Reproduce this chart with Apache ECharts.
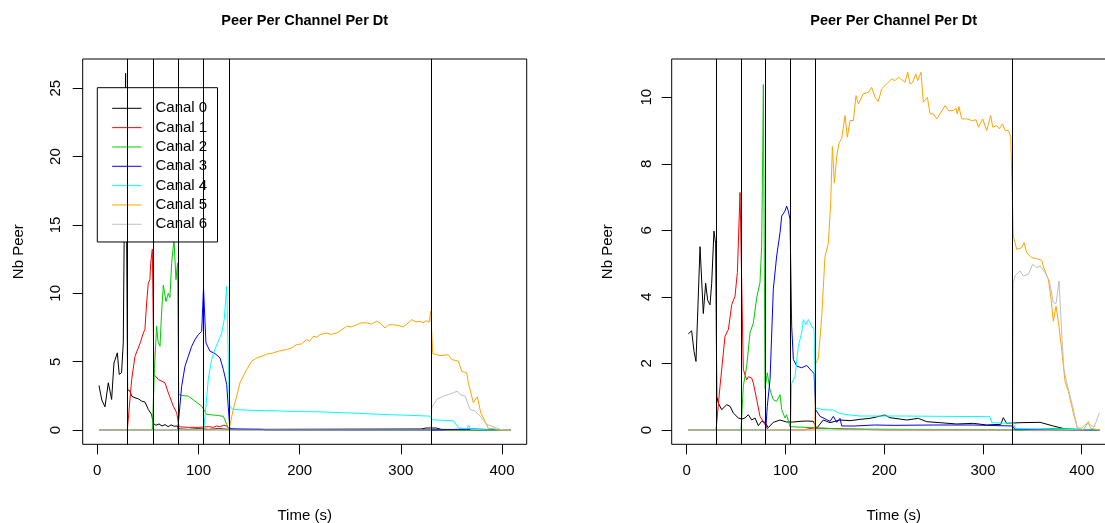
<!DOCTYPE html>
<html>
<head>
<meta charset="utf-8">
<script src="https://cdn.jsdelivr.net/npm/echarts@6/dist/echarts.min.js"></script>
<style>
html,body{margin:0;padding:0;background:#fff;}
#chart{width:1105px;height:523px;}
</style>
</head>
<body>
<div id="chart"></div>
<script>
// ---------- data ----------
const channelNames = ['Canal 0','Canal 1','Canal 2','Canal 3','Canal 4','Canal 5','Canal 6'];
const switchTimes = [30, 55, 80, 105, 130, 330];
const xTicks = [0, 100, 200, 300, 400];
const yTicksLeft = [0, 5, 10, 15, 20, 25];
const yTicksRight = [0, 2, 4, 6, 8, 10];

// left panel, [time, peers]
const L0 = [[1.7,3.26],[4.5,2.2],[7.6,1.7],[10.9,3.46],[14.2,2.24],[16.5,4.9],[19.8,5.65],[21.7,4.07],[24,4.2],[25.7,6.38],[28,26.1],[30,2.97],[32.3,2.85],[34,2.48],[37.3,2.36],[40.5,2.29],[43.9,2.12],[47.2,2.05],[50.4,1.51],[53.7,1.15],[55.4,0.49],[58,0.35],[61,0.45],[64,0.3],[67,0.4],[70,0.25],[73,0.38],[76,0.28],[79,0.3],[81,0.08],[90,0.05],[100,0.1],[110,0.05],[120,0.1],[130,0.05],[140,0.05],[320,0.08],[325,0.15],[335,0.15],[340,0.05],[408.6,0]];
const L1 = [[1.7,0],[29.7,0],[34,3.7],[37.3,5.4],[40.5,6.0],[43,6.5],[45.5,7.1],[47.1,7.36],[48.8,9.3],[50.4,10.76],[52,11.0],[52.8,12.2],[54.4,13.24],[56,4.07],[60.3,3.7],[63,3.6],[66.9,3.46],[70.2,2.73],[75.1,1.75],[78.5,1.27],[80.8,0.24],[90,0.2],[100,0.2],[110,0.25],[115,0.2],[118,0.3],[121,0.25],[125,0.35],[128,0.3],[131,0.02],[408.6,0]];
const L2 = [[1.7,0],[54.5,0],[55.4,2.0],[56.5,4.5],[58.7,7.6],[60,6.5],[62,6.13],[63.5,8.5],[65.3,10.6],[67.9,9.4],[70.2,10.0],[71.8,9.7],[73.5,12.2],[75.8,13.9],[77.8,11.0],[79.3,12.2],[80.5,2.6],[83.4,2.53],[90,2.48],[96.6,2.12],[103.2,1.75],[108.1,1.15],[112,1.12],[119.6,1.07],[124.6,1.0],[127.9,0.42],[130,0.02],[408.6,0]];
const L3 = [[1.7,0],[79.5,0],[83.4,3.2],[86.7,4.67],[90,5.4],[93.3,6.13],[96.6,6.62],[99.8,6.98],[103.2,7.23],[105,10.4],[107.4,6.38],[111.4,5.77],[116.3,5.6],[121.3,5.28],[124.6,4.43],[127.9,3.34],[129.5,3.2],[131,0.1],[140,0.08],[164,0.05],[166,0],[330,0],[331,0.08],[370,0.08],[371,0],[408.6,0]];
const L4 = [[1.7,0],[105,0],[106.5,1.0],[109.7,3.7],[113,5.16],[116.3,5.9],[119.6,6.5],[123,7.1],[125.5,8.1],[127.9,10.5],[130.5,1.8],[133.8,1.51],[150,1.45],[180,1.4],[200,1.35],[217,1.34],[250,1.25],[280,1.15],[300,1.1],[329,1.02],[331,0.75],[352,0.68],[357,0.15],[365,0.1],[367,0.34],[369,0.05],[397.5,0],[408.6,0]];
const L5 = [[1.7,0],[130,0],[131,0.05],[134.4,1.5],[137.8,2.48],[141,3.46],[144.3,3.94],[147.7,4.43],[152.6,5.04],[157.6,5.28],[162.5,5.4],[167.4,5.55],[174,5.65],[178.9,5.77],[187.2,5.89],[192,6.0],[197.1,6.26],[202,6.3],[207,6.62],[210,6.5],[213.5,6.86],[217,6.8],[220.1,6.98],[226.7,7.1],[231,7.0],[236.6,7.1],[241,7.3],[246.5,7.6],[251,7.55],[256.4,7.7],[261,7.85],[266.3,7.84],[271,7.75],[276.2,7.96],[280,7.8],[284.4,7.47],[288,7.7],[292.6,7.7],[297,7.65],[302.5,7.55],[306,7.75],[310.8,8.08],[315,7.9],[319,7.96],[322,7.85],[325.6,8.0],[328,7.9],[329.6,8.7],[331.5,5.6],[338.7,5.45],[346.9,5.5],[350.3,5.16],[356.9,5.04],[360.2,4.3],[365.1,4.19],[366.7,3.46],[371.7,2.0],[375.6,2.43],[379,1.27],[383.2,0.66],[386.5,0.12],[391.5,0.12],[396.5,0],[408.6,0]];
const L6 = [[1.7,0],[330,0],[330.5,1.63],[335.5,2.24],[342,2.48],[347,2.6],[352,2.73],[355.8,2.85],[358.5,2.6],[363.5,2.48],[368.4,1.51],[373.3,1.39],[378.3,1.02],[384.9,0.42],[391.4,0.25],[398,0.05],[408.6,0]];

// right panel, [time, peers]
const R0 = [[1.6,2.89],[5,2.98],[7.4,2.36],[9.4,2.06],[13.5,5.51],[16.8,3.5],[19.2,4.41],[21.2,3.9],[23.6,3.76],[25.3,4.41],[27.6,5.98],[29.3,5.6],[30.5,1.0],[32,0.81],[35.4,0.61],[40.5,0.76],[43.9,0.71],[47.2,0.51],[52.3,0.36],[55.7,0.33],[59,0.36],[62.4,0.46],[65.8,0.3],[69.2,0.36],[72.5,0.13],[75.9,0.26],[79.3,0.23],[82.6,0.07],[87.7,0.23],[94.5,0.3],[101.2,0.24],[108,0.24],[114.7,0.26],[121.5,0.27],[128.2,0.26],[131.6,0.05],[138.3,0.3],[145,0.22],[155.2,0.3],[165.4,0.28],[175.5,0.32],[185.6,0.35],[200.8,0.45],[205.8,0.37],[222.8,0.3],[234.6,0.35],[243,0.25],[256.5,0.22],[273.4,0.18],[290.2,0.2],[303.7,0.15],[318,0.17],[320.6,0.37],[324,0.2],[337.5,0.22],[357.8,0.23],[371.2,0.12],[384.8,0.02],[417.8,0]];
const R1 = [[1.6,0],[29.7,0],[33.7,1.31],[38.8,2.82],[42.2,3.02],[45.6,3.77],[48.9,4.02],[51.3,4.73],[54,7.14],[57.3,1.82],[60.7,1.51],[62.4,1.6],[65.8,1.56],[67.5,1.41],[70.9,0.91],[74.2,0.41],[79.3,0.16],[82.6,0],[99,0],[100,0.06],[101,0],[118,0],[120,0.06],[128,0.06],[130,0],[200,0],[201,0.05],[202,0],[215,0],[216,0.05],[217,0],[417.8,0]];
const R2 = [[1.6,0],[55,0],[57.3,1.31],[60.7,1.91],[64.1,2.92],[67.5,3.22],[70.9,3.98],[74.2,4.43],[75.9,5.53],[77,8.5],[77.6,10.38],[79.3,1.25],[81.6,1.72],[84.3,1.21],[87.7,0.91],[91,0.86],[94.5,1.06],[96.2,0.61],[99.5,0.36],[101.2,0.46],[104.6,0.1],[106,0.05],[155,0.03],[156,0],[340,0],[341,0.05],[375,0.05],[376,0],[417.8,0]];
const R3 = [[1.6,0],[80,0],[81.6,0.71],[84.4,1.52],[87.7,4.23],[91.1,5.23],[94.5,5.93],[96.2,6.43],[99.5,6.58],[101.2,6.73],[102.9,6.58],[104.6,6.33],[106.3,3.12],[108,2.12],[111.4,1.92],[116.4,1.87],[121.5,1.94],[126.6,1.77],[129,1.7],[130.5,0.61],[135,0.41],[141.8,0.31],[145.2,0.26],[148.5,0.41],[151.9,0.23],[155.2,0.35],[157,0.12],[170,0.12],[190,0.15],[210,0.14],[250,0.15],[290,0.15],[330,0.12],[332,0.03],[340,0.02],[342,0.06],[344,0.02],[417.8,0]];
const R4 = [[1.6,0],[105,0],[106.3,1.41],[109.7,1.61],[113,2.52],[116.4,2.92],[118.1,3.32],[120.8,3.17],[123.2,3.32],[126.6,3.12],[129,3.02],[130.5,0.66],[138.3,0.61],[148.5,0.6],[153.6,0.51],[160,0.47],[165,0.45],[175,0.42],[220,0.42],[260,0.41],[307,0.4],[308.8,0.22],[330.7,0.2],[333,0.04],[417.8,0]];
const R5 = [[1.6,0],[129.7,0],[130.6,2.0],[133.3,2.16],[136.7,3.4],[140,5.21],[143.4,5.61],[145.8,6.82],[147.5,8.52],[149.5,7.42],[151.9,8.22],[154.2,8.62],[157,8.77],[158.6,8.72],[160.3,9.45],[162.6,8.8],[165.4,9.3],[168.8,9.3],[171.4,10.05],[173.8,9.8],[178.8,10.1],[183.9,10.15],[187.3,10.3],[190.7,10.0],[194,9.87],[197.4,10.25],[200.8,10.35],[204.1,10.45],[207.6,10.55],[211,10.5],[214.3,10.6],[217.7,10.53],[221,10.45],[223.8,10.75],[226.2,10.4],[228.9,10.45],[231.9,10.7],[233.9,10.5],[237.3,10.75],[239.6,9.85],[241.3,9.8],[243.7,10.0],[246.4,9.5],[249.7,9.5],[253.2,9.35],[256.5,9.5],[261.6,9.75],[265,9.6],[270,9.6],[272.7,9.67],[274,9.5],[275.7,9.72],[278.4,9.35],[283.5,9.35],[288.6,9.3],[293,9.32],[295.4,9.1],[299.7,9.35],[303.8,9.0],[307.8,9.45],[309.9,9.1],[313.9,9.15],[316.6,9.05],[319.7,9.2],[322.4,9.0],[325.7,9.0],[328.1,8.82],[329.8,6.94],[330.7,5.83],[334.2,5.43],[339.2,5.48],[341.6,5.63],[344.3,5.33],[349.4,5.18],[354.5,5.15],[359.5,5.1],[361.2,4.9],[366.2,4.53],[369,3.93],[371.2,3.27],[374,3.72],[376.3,3.27],[379.7,2.42],[383.1,1.46],[386.5,1.16],[391.5,0.51],[395.6,0.06],[401.6,0],[404,0.12],[406.7,0.25],[409,0.05],[417.8,0]];
const R6 = [[1.6,0],[330,0],[330.7,4.43],[332.4,4.63],[337.5,4.78],[340.9,4.63],[346,4.68],[350.4,4.98],[354.5,4.88],[357.8,4.93],[362.9,4.73],[367.3,4.48],[371.2,3.83],[374,3.8],[377,4.48],[379.7,2.92],[382,1.82],[384.8,1.42],[388.2,1.02],[391.5,0.62],[395.6,0.06],[400,0.06],[405,0.2],[409.1,0.15],[412.5,0.08],[417.8,0.51]];

const leftSeries = [L0, L1, L2, L3, L4, L5, L6];
const rightSeries = [R0, R1, R2, R3, R4, R5, R6];

// ---------- styling ----------
const palette = ['#000000','#FF0000','#00CD00','#0000FF','#00FFFF','#FFA500','#BEBEBE'];
const FONT = 'Liberation Sans, Arial, Helvetica, sans-serif';

function makeX(idx, min, max) {
  return {
    type: 'value', gridIndex: idx, min: min, max: max,
    name: 'Time (s)', nameLocation: 'middle', nameGap: 64,
    nameTextStyle: {fontFamily: FONT, fontSize: 15, color: '#000'},
    axisLine: {show: false, onZero: false},
    splitLine: {show: false},
    axisTick: {show: true, inside: false, length: 10, customValues: xTicks, lineStyle: {color: '#000', width: 1}},
    axisLabel: {show: true, margin: 19, customValues: xTicks, fontFamily: FONT, fontSize: 15, color: '#000'}
  };
}
function makeY(idx, min, max, ticks, labelMargin) {
  return {
    type: 'value', gridIndex: idx, min: min, max: max,
    name: 'Nb Peer', nameLocation: 'middle', nameGap: 56.5, nameRotate: 90,
    nameTextStyle: {fontFamily: FONT, fontSize: 15, color: '#000'},
    axisLine: {show: false, onZero: false},
    splitLine: {show: false},
    axisTick: {show: true, inside: false, length: 10, customValues: ticks, lineStyle: {color: '#000', width: 1}},
    axisLabel: {show: true, rotate: 90, margin: labelMargin, customValues: ticks, fontFamily: FONT, fontSize: 15, color: '#000'}
  };
}

const series = [];
[leftSeries, rightSeries].forEach(function (group, g) {
  group.forEach(function (data, i) {
    const s = {
      type: 'line', name: channelNames[i], xAxisIndex: g, yAxisIndex: g,
      data: data, symbol: 'none', showSymbol: false, smooth: false,
      lineStyle: {width: 1, color: palette[i]},
      itemStyle: {color: palette[i]},
      silent: true, animation: false
    };
    if (i === 0) {
      s.markLine = {
        silent: true, symbol: ['none', 'none'], animation: false,
        label: {show: false},
        lineStyle: {color: '#000', width: 1, type: 'solid'},
        emphasis: {disabled: true},
        data: switchTimes.map(function (t) { return {xAxis: t}; })
      };
    }
    series.push(s);
  });
});

const chart = echarts.init(document.getElementById('chart'), null, {renderer: 'canvas'});
chart.setOption({
  backgroundColor: '#ffffff',
  animation: false,
  title: [
    {text: 'Peer Per Channel Per Dt', left: 304.7, top: 13, textAlign: 'center', padding: 0,
     textStyle: {fontFamily: FONT, fontSize: 14.5, fontWeight: 'bold', color: '#000'}},
    {text: 'Peer Per Channel Per Dt', left: 893.7, top: 13, textAlign: 'center', padding: 0,
     textStyle: {fontFamily: FONT, fontSize: 14.5, fontWeight: 'bold', color: '#000'}}
  ],
  legend: {
    data: channelNames, orient: 'vertical', left: 97.3, top: 87.7,
    padding: [13.1, 10.3, 10.2, 14.4],
    itemWidth: 29.3, itemHeight: 2, itemGap: 4.33,
    itemStyle: {opacity: 0, borderWidth: 0},
    lineStyle: {width: 1},
    borderColor: '#000', borderWidth: 1, backgroundColor: '#fff',
    selectedMode: false,
    textStyle: {fontFamily: FONT, fontSize: 15, color: '#000', lineHeight: 15, padding: [0, 0, 0, 9]}
  },
  grid: [
    {left: 82.7, top: 59, width: 444, height: 385.3, show: true, borderColor: '#000', borderWidth: 1, backgroundColor: 'transparent', containLabel: false, outerBoundsMode: 'none'},
    {left: 671.7, top: 59, width: 444, height: 385.3, show: true, borderColor: '#000', borderWidth: 1, backgroundColor: 'transparent', containLabel: false, outerBoundsMode: 'none'}
  ],
  xAxis: [makeX(0, -14.4, 424.4), makeX(1, -15.2, 434.4)],
  yAxis: [makeY(0, -1.04, 27.14, yTicksLeft, 19.7), makeY(1, -0.43, 11.15, yTicksRight, 17)],
  series: series
});
</script>
</body>
</html>
